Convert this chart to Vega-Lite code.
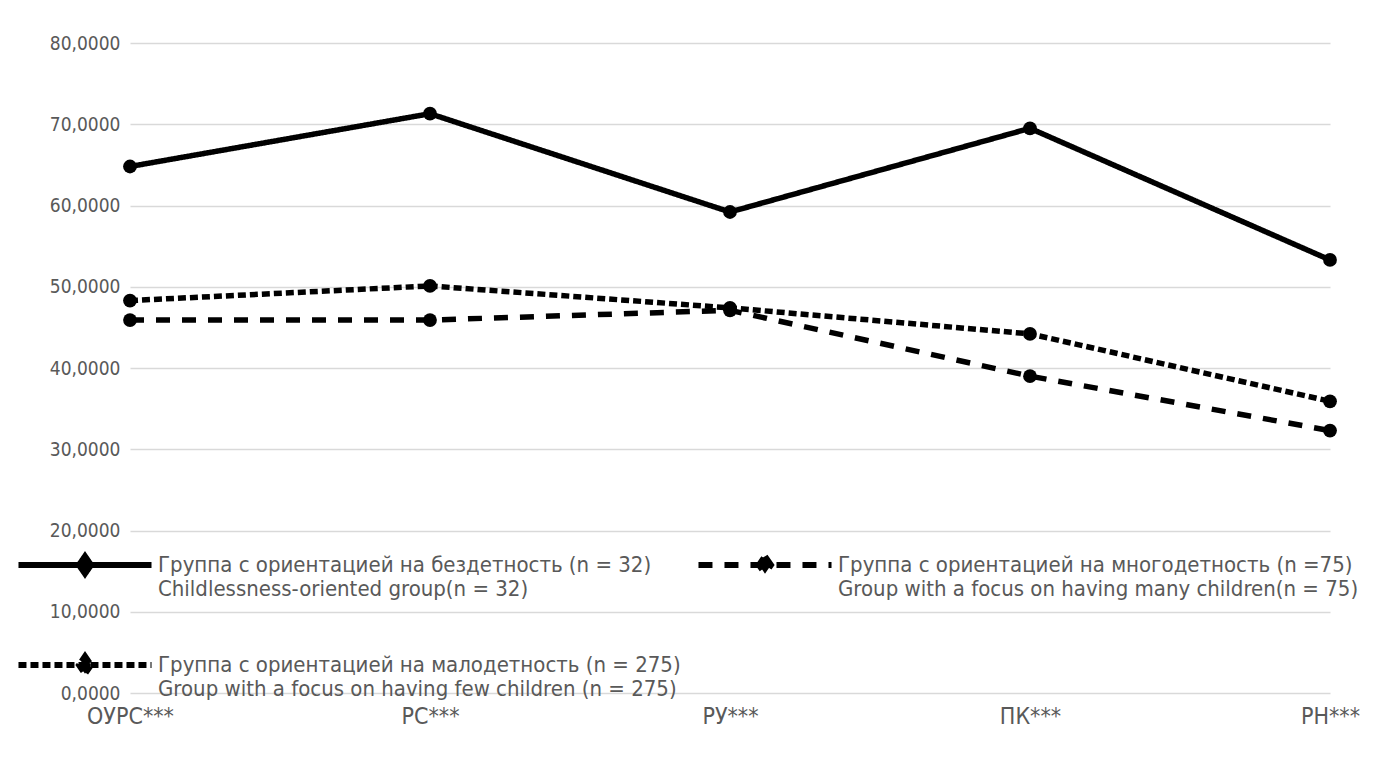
{
  "$schema": "https://vega.github.io/schema/vega-lite/v6.json",
  "width": 1200,
  "height": 650,
  "autosize": "none",
  "padding": {"left": 130, "top": 43, "right": 68, "bottom": 69},
  "background": "white",
  "config": {
    "view": {"stroke": null},
    "font": "DejaVu Sans Condensed, Liberation Sans, sans-serif",
    "axis": {"labelFont": "DejaVu Sans Condensed, Liberation Sans, sans-serif", "labelColor": "#595959", "labelFontSize": 19},
    "legend": {"labelFont": "DejaVu Sans Condensed, Liberation Sans, sans-serif"}
  },
  "data": {
    "values": [
      {"cat": "ОУРС***", "group": "Группа с ориентацией на бездетность (n = 32)|Childlessness-oriented group(n = 32)", "value": 64.8},
      {"cat": "РС***", "group": "Группа с ориентацией на бездетность (n = 32)|Childlessness-oriented group(n = 32)", "value": 71.3},
      {"cat": "РУ***", "group": "Группа с ориентацией на бездетность (n = 32)|Childlessness-oriented group(n = 32)", "value": 59.2},
      {"cat": "ПК***", "group": "Группа с ориентацией на бездетность (n = 32)|Childlessness-oriented group(n = 32)", "value": 69.5},
      {"cat": "РН***", "group": "Группа с ориентацией на бездетность (n = 32)|Childlessness-oriented group(n = 32)", "value": 53.3},
      {"cat": "ОУРС***", "group": "Группа с ориентацией на многодетность (n =75)|Group with a focus on having many children(n = 75)", "value": 45.9},
      {"cat": "РС***", "group": "Группа с ориентацией на многодетность (n =75)|Group with a focus on having many children(n = 75)", "value": 45.9},
      {"cat": "РУ***", "group": "Группа с ориентацией на многодетность (n =75)|Group with a focus on having many children(n = 75)", "value": 47.1},
      {"cat": "ПК***", "group": "Группа с ориентацией на многодетность (n =75)|Group with a focus on having many children(n = 75)", "value": 39.0},
      {"cat": "РН***", "group": "Группа с ориентацией на многодетность (n =75)|Group with a focus on having many children(n = 75)", "value": 32.3},
      {"cat": "ОУРС***", "group": "Группа с ориентацией на малодетность (n = 275)|Group with a focus on having few children (n = 275)", "value": 48.3},
      {"cat": "РС***", "group": "Группа с ориентацией на малодетность (n = 275)|Group with a focus on having few children (n = 275)", "value": 50.1},
      {"cat": "РУ***", "group": "Группа с ориентацией на малодетность (n = 275)|Group with a focus on having few children (n = 275)", "value": 47.4},
      {"cat": "ПК***", "group": "Группа с ориентацией на малодетность (n = 275)|Group with a focus on having few children (n = 275)", "value": 44.2},
      {"cat": "РН***", "group": "Группа с ориентацией на малодетность (n = 275)|Group with a focus on having few children (n = 275)", "value": 35.9}
    ]
  },
  "encoding": {
    "x": {
      "field": "cat", "type": "ordinal", "sort": null,
      "scale": {"type": "point", "padding": 0},
      "axis": {"title": null, "labelAngle": 0, "domain": false, "ticks": false, "grid": false, "labelPadding": 12, "labelFontSize": 23}
    },
    "y": {
      "field": "value", "type": "quantitative",
      "scale": {"domain": [0, 80], "nice": false},
      "axis": {
        "title": null, "values": [0, 10, 20, 30, 40, 50, 60, 70, 80],
        "domain": false, "ticks": false, "grid": true, "gridColor": "#d9d9d9", "gridWidth": 1.5,
        "labelPadding": 10,
        "labelExpr": "replace(format(datum.value, '.4f'), '.', ',')"
      }
    }
  },
  "layer": [
    {
      "mark": {"type": "line", "color": "black", "strokeWidth": 5.5},
      "encoding": {
        "strokeDash": {
          "field": "group", "type": "nominal",
          "scale": {
            "domain": [
              "Группа с ориентацией на бездетность (n = 32)|Childlessness-oriented group(n = 32)",
              "Группа с ориентацией на малодетность (n = 275)|Group with a focus on having few children (n = 275)",
              "Группа с ориентацией на многодетность (n =75)|Group with a focus on having many children(n = 75)"
            ],
            "range": [[1, 0], [8, 4], [14, 12]]
          },
          "legend": {
            "title": null,
            "orient": "none",
            "legendX": -115,
            "legendY": 452,
            "columns": 2,
            "gridAlign": "none",
            "columnPadding": 5,
            "rowPadding": -5,
            "symbolType": "M-1,0H1M0,-0.13L0.09,0L0,0.13L-0.09,0Z",
            "symbolSize": 17700,
            "symbolStrokeWidth": 6,
            "symbolStrokeColor": "black",
            "symbolFillColor": "black",
            "labelFontSize": 22,
            "labelColor": "#595959",
            "labelLimit": 0,
            "labelOffset": 3,
            "labelExpr": "split(datum.label, '|')"
          }
        }
      }
    },
    {
      "mark": {"type": "point", "filled": true, "color": "black", "shape": "circle", "size": 190, "opacity": 1}
    }
  ]
}
